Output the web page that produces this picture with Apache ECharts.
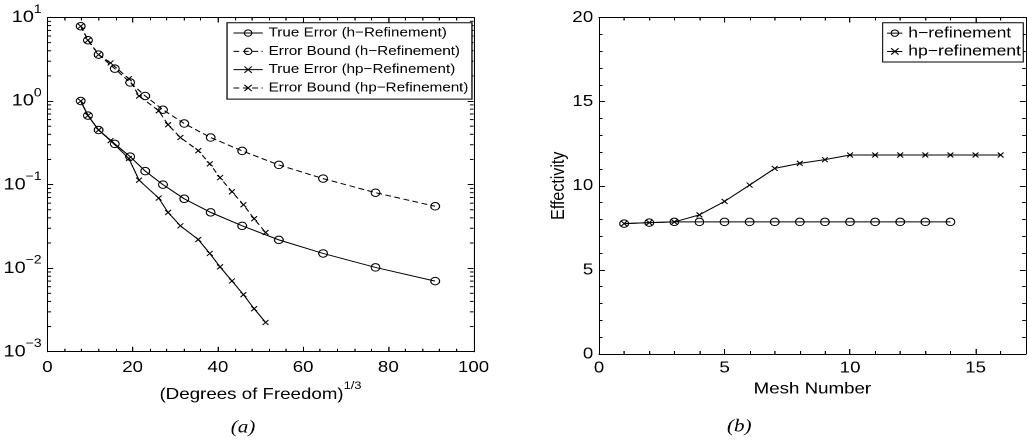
<!DOCTYPE html>
<html><head><meta charset="utf-8">
<script src="https://cdn.jsdelivr.net/npm/echarts@6/dist/echarts.min.js"></script>
<style>
html,body{margin:0;padding:0;background:#fff;overflow:hidden;}
#chart{width:878px;height:443px;transform:scaleX(1.1697);transform-origin:0 0;}
</style></head><body><div id="chart"></div>
<script>
// ---------- data (panel a) ----------
const hDof    = [7.8, 9.5, 12.0, 15.8, 19.4, 22.95, 27.1, 32.1, 38.3, 45.7, 54.3, 64.7, 77.0, 91.0];
const hTrue   = [1.0, 0.67, 0.45, 0.307, 0.216, 0.145, 0.100, 0.0676, 0.0465, 0.0321, 0.0218, 0.0150, 0.0102, 0.0070];
const hBound  = [7.87, 5.35, 3.60, 2.44, 1.67, 1.15, 0.787, 0.538, 0.366, 0.253, 0.172, 0.118, 0.080, 0.055];
const hpDof   = [7.8, 9.5, 12.0, 14.8, 19.1, 21.5, 26.1, 28.3, 31.2, 35.4, 38.1, 40.5, 43.3, 46.0, 48.5, 51.2];
const hpTrue  = [1.0, 0.67, 0.45, 0.336, 0.205, 0.113, 0.069, 0.0464, 0.0321, 0.0220, 0.0150, 0.01035, 0.00703, 0.00482, 0.00327, 0.00224];
const hpBound = [7.87, 5.35, 3.60, 2.86, 1.85, 1.15, 0.766, 0.52, 0.366, 0.255, 0.177, 0.121, 0.0822, 0.0574, 0.039, 0.0267];
const seriesNamesA = ['True Error (h\u2212Refinement)', 'Error Bound (h\u2212Refinement)',
                      'True Error (hp\u2212Refinement)', 'Error Bound (hp\u2212Refinement)'];
const leftYExponents = ['\u22123', '\u22122', '\u22121', '0', '1'];
const leftXTicks = ['0', '20', '40', '60', '80', '100'];

// ---------- data (panel b) ----------
const hMesh  = [1,2,3,4,5,6,7,8,9,10,11,12,13,14];
const hEff   = [7.75, 7.81, 7.85, 7.85, 7.85, 7.85, 7.85, 7.85, 7.85, 7.85, 7.85, 7.85, 7.85, 7.85];
const hpMesh = [1,2,3,4,5,6,7,8,9,10,11,12,13,14,15,16];
const hpEff  = [7.75, 7.81, 7.85, 8.27, 9.07, 10.04, 11.03, 11.33, 11.55, 11.83, 11.83, 11.83, 11.83, 11.83, 11.83, 11.83];
const seriesNamesB = ['h\u2212refinement', 'hp\u2212refinement'];
const captions = ['(a)', '(b)'];

const FONT = '"Liberation Sans", Arial, Helvetica, sans-serif';
const BLACK = '#000';
const CROSS = 'path://M0 0L10 10M10 0L0 10';

function lineSeries(name, xs, ys, symbol, size, dashed, xi, yi) {
  return {
    type: 'line', name: name, xAxisIndex: xi, yAxisIndex: yi,
    data: xs.map((x, i) => [x, ys[i]]),
    symbol: symbol, symbolSize: size, showSymbol: true, showAllSymbol: true,
    lineStyle: { color: BLACK, width: 1, type: dashed ? [5, 3] : 'solid' },
    itemStyle: { color: 'rgba(0,0,0,0)', borderColor: BLACK, borderWidth: 1 },
    emphasis: { disabled: true }, silent: true, z: 3
  };
}

const axisLine = { show: true, onZero: false, lineStyle: { color: BLACK, width: 1 } };
const tick = { show: true, inside: true, length: 5, lineStyle: { color: BLACK, width: 1 } };
const minor = { show: true, splitNumber: 5, length: 3, lineStyle: { color: BLACK, width: 1 } };
const noSplit = { show: false };
const supRich = {
  b: { fontSize: 17, lineHeight: 28, fontFamily: FONT, color: BLACK },
  s: { fontSize: 12, lineHeight: 12, verticalAlign: 'top', fontFamily: FONT, color: BLACK }
};
const nameRich = {
  b: { fontSize: 16, lineHeight: 28, fontFamily: FONT, color: BLACK },
  s: { fontSize: 11, lineHeight: 12, verticalAlign: 'top', fontFamily: FONT, color: BLACK }
};

// log minor ticks (2..9 x 10^k) for the mirrored log axes
const logMinor = [];
for (let k = -3; k < 1; k++) for (let m = 2; m <= 9; m++) logMinor.push(m * Math.pow(10, k));

const L = { left: 39.3, top: 17.5, width: 365.5, height: 334.2 };
const R = { left: 512.1, top: 17.5, width: 364.8, height: 336.5 };

const legendCommon = {
  orient: 'vertical', align: 'left', itemHeight: 8, itemGap: 0,
  borderColor: BLACK, borderWidth: 1, backgroundColor: '#fff', selectedMode: false,
  lineStyle: { width: 1 }, itemStyle: { borderWidth: 1 }, z: 10
};

const option = {
  animation: false,
  backgroundColor: '#fff',
  grid: [
    Object.assign({ containLabel: false }, L),
    Object.assign({ containLabel: false }, R)
  ],
  xAxis: [
    { gridIndex: 0, type: 'value', min: 0, max: 100, interval: 20, position: 'bottom',
      axisLine: axisLine, axisTick: tick, minorTick: minor, splitLine: noSplit,
      axisLabel: { fontSize: 16, margin: 8, color: BLACK, fontFamily: FONT,
                   formatter: (v) => leftXTicks[Math.round(v / 20)] },
      name: '{b|(Degrees of Freedom)}{s|1/3}', nameLocation: 'middle', nameGap: 25,
      nameTextStyle: { rich: nameRich } },
    { gridIndex: 0, type: 'value', min: 0, max: 100, interval: 20, position: 'top',
      axisLine: axisLine, axisTick: tick, minorTick: minor, splitLine: noSplit,
      axisLabel: { show: false } },
    { gridIndex: 1, type: 'value', min: 0, max: 17, interval: 5, position: 'bottom',
      axisLine: axisLine, axisTick: tick, minorTick: minor, splitLine: noSplit,
      axisLabel: { fontSize: 16, margin: 6, color: BLACK, fontFamily: FONT, showMaxLabel: false },
      name: 'Mesh Number', nameLocation: 'middle', nameGap: 27,
      nameTextStyle: { fontSize: 16, color: BLACK, fontFamily: FONT } },
    { gridIndex: 1, type: 'value', min: 0, max: 17, interval: 5, position: 'top',
      axisLine: axisLine, axisTick: tick, minorTick: minor, splitLine: noSplit,
      axisLabel: { show: false } }
  ],
  yAxis: [
    { gridIndex: 0, type: 'log', logBase: 10, min: 0.001, max: 10, position: 'left',
      axisLine: axisLine, axisTick: tick, splitLine: noSplit,
      axisLabel: { margin: 5, rich: supRich,
        formatter: (v) => '{b|10}{s|' + leftYExponents[Math.round(Math.log10(v)) + 3] + '}' } },
    { gridIndex: 0, type: 'log', logBase: 10, min: 0.001, max: 10, position: 'right',
      axisLine: axisLine, axisTick: tick, splitLine: noSplit, axisLabel: { show: false } },
    { gridIndex: 1, type: 'value', min: 0, max: 20, interval: 5, position: 'left',
      axisLine: axisLine, axisTick: tick, minorTick: minor, splitLine: noSplit,
      axisLabel: { fontSize: 16, margin: 5, color: BLACK, fontFamily: FONT },
      name: 'Effectivity', nameLocation: 'middle', nameGap: 25,
      nameTextStyle: { fontSize: 16, color: BLACK, fontFamily: FONT } },
    { gridIndex: 1, type: 'value', min: 0, max: 20, interval: 5, position: 'right',
      axisLine: axisLine, axisTick: tick, minorTick: minor, splitLine: noSplit,
      axisLabel: { show: false } }
  ],
  legend: [
    Object.assign({}, legendCommon, { data: seriesNamesA, left: 194.1, top: 22.7,
      itemWidth: 25, padding: [1.2, 3, 2, 5],
      textStyle: { fontSize: 13, lineHeight: 18.3, color: BLACK, fontFamily: FONT } }),
    Object.assign({}, legendCommon, { data: seriesNamesB, left: 754.6, top: 22.7,
      itemWidth: 13, padding: [1.3, 2, 1.4, 3.4],
      textStyle: { fontSize: 15, lineHeight: 18.3, color: BLACK, fontFamily: FONT } })
  ],
  graphic: [
    { type: 'text', x: 207.7, y: 428, silent: true,
      style: { text: captions[0], fontSize: 18, fontStyle: 'italic', fontFamily: '"Liberation Serif", "DejaVu Serif", serif',
               fill: BLACK, align: 'center', verticalAlign: 'middle' } },
    { type: 'text', x: 632, y: 427, silent: true,
      style: { text: captions[1], fontSize: 18, fontStyle: 'italic', fontFamily: '"Liberation Serif", "DejaVu Serif", serif',
               fill: BLACK, align: 'center', verticalAlign: 'middle' } }
  ],
  series: [
    lineSeries(seriesNamesA[0], hDof, hTrue, 'circle', 7.5, false, 0, 0),
    lineSeries(seriesNamesA[1], hDof, hBound, 'circle', 7.5, true, 0, 0),
    lineSeries(seriesNamesA[2], hpDof, hpTrue, CROSS, 5, false, 0, 0),
    lineSeries(seriesNamesA[3], hpDof, hpBound, CROSS, 5, true, 0, 0),
    lineSeries(seriesNamesB[0], hMesh, hEff, 'circle', 7.5, false, 2, 2),
    lineSeries(seriesNamesB[1], hpMesh, hpEff, CROSS, 5, false, 2, 2),
    { type: 'custom', name: 'logMinorTicks', xAxisIndex: 0, yAxisIndex: 0, silent: true, clip: false, z: 4,
      data: logMinor.map(v => [0, v]),
      renderItem: function (params, api) {
        const v = api.value(1);
        const a = api.coord([0, v]);
        const b = api.coord([100, v]);
        const st = { stroke: BLACK, lineWidth: 1 };
        return { type: 'group', children: [
          { type: 'line', shape: { x1: a[0], y1: a[1], x2: a[0] + 3, y2: a[1] }, style: st },
          { type: 'line', shape: { x1: b[0] - 3, y1: b[1], x2: b[0], y2: b[1] }, style: st }
        ] };
      } }
  ]
};

const chart = echarts.init(document.getElementById('chart'), null, { renderer: 'canvas', devicePixelRatio: 2 });
chart.setOption(option);
</script>
</body></html>
